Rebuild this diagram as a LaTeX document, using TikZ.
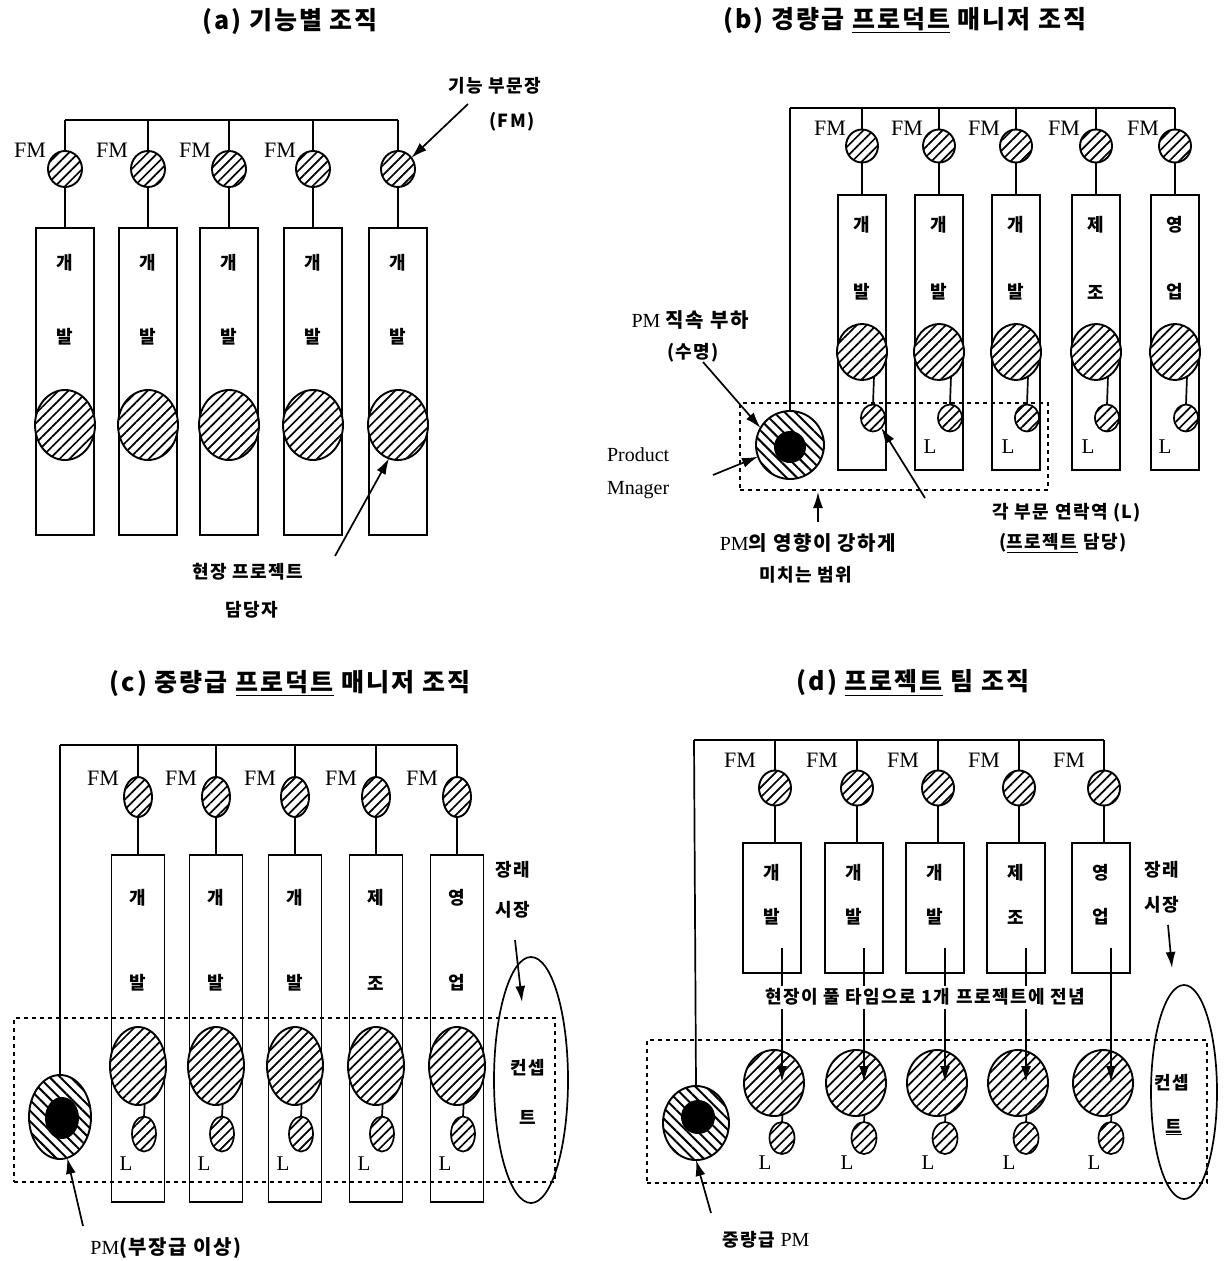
\documentclass[tikz,border=0pt]{standalone}
\usepackage{fontspec}
\setmainfont{Liberation Serif}
\newfontfamily\kr[LetterSpace=8]{Noto Sans CJK KR}
\usepackage{tikz}
\usetikzlibrary{positioning,shapes.geometric,arrows.meta,patterns.meta}

\tikzset{
  every node/.style={inner sep=0pt,outer sep=0pt},
  ln/.style={line width=1.7pt},
  arr/.style={line width=1.7pt,-{Latex[length=16pt,width=10pt]}},
  hatch/.style={draw,line width=1.9pt,preaction={fill=white},
    pattern={Lines[angle=45,distance=7pt,line width=1.7pt]}},
  hatchb/.style={draw,line width=1.9pt,preaction={fill=white},
    pattern={Lines[angle=-45,distance=7.5pt,line width=2pt]}},
  fmc/.style={ellipse,hatch},
  bigc/.style={ellipse,hatch},
  smlc/.style={ellipse,hatch,line width=1.7pt},
  pmc/.style={ellipse,hatchb},
  core/.style={circle,fill=black},
  colbox/.style={draw,line width=1.7pt,fill=white},
  rng/.style={draw,line width=1.9pt,dash pattern=on 4pt off 4pt},
  ttl/.style={font=\kr\bfseries\fontsize{25}{28}\selectfont},
  kt/.style={font=\kr\bfseries\fontsize{18}{22}\selectfont},
  fml/.style={font=\fontsize{22}{24}\selectfont},
  el/.style={font=\fontsize{21}{24}\selectfont},
  pml/.style={font=\fontsize{20}{24}\selectfont}
}

\begin{document}
\begin{tikzpicture}[x=1pt,y=-1pt]
  \useasboundingbox (0,0) rectangle (1228,1261);

  % ---- (a) ----
  \node[ttl] (ta) at (290,22) {(a) 기능별 조직};
  \draw[ln] (65,120) -- (398,120);
  \foreach \i/\x in {1/65,2/148,3/229,4/313,5/398} {
    \coordinate (ab\i) at (\x,120);
    \node[colbox,minimum width=58pt,minimum height=307pt] (abx\i) at (\x,381.5) {};
    \node[kt] (aka\i) at (\x,263) {개};
    \node[kt] (akb\i) at (\x,337) {발};
    \node[bigc,minimum width=60pt,minimum height=70pt] (ac\i) at (\x,425) {};
    \node[fmc,minimum width=34pt,minimum height=36pt] (afm\i) at (\x,169) {};
    \draw[ln] (ab\i) -- (afm\i.north);
    \draw[ln] (afm\i.south) -- (abx\i.north);
  }
  \foreach \i/\x in {1/30,2/112,3/195,4/280}
    \node[fml] (afl\i) at (\x,150) {FM};
  \node[kt] (afmla) at (495,86) {기능 부문장};
  \node[kt] (afmlb) at (512,122) {(FM)};
  \coordinate (afmt) at (468,104);
  \draw[arr] (afmt) -- (afm5.40);
  \node[kt] (apja) at (248,572) {현장 프로젝트};
  \node[kt] (apjb) at (252,610) {담당자};
  \coordinate (apjt) at (335,556);
  \draw[arr] (apjt) -- (ac5.-105);

  % ---- (b) ----
  \node[ttl] (tb) at (905,20) {(b) 경량급 \underline{프로덕트} 매니저 조직};
  \draw[ln] (790,108) -- (1175,108);
  \foreach \i/\x/\ta/\tb in {1/862/개/발,2/939/개/발,3/1016/개/발,4/1096/제/조,5/1175/영/업} {
    \coordinate (bb\i) at (\x,108);
    \node[colbox,minimum width=48pt,minimum height=275pt] (bbx\i) at (\x,332.5) {};
    \node[kt] (bka\i) at (\x,225) {\ta};
    \node[kt] (bkb\i) at (\x,292) {\tb};
    \node[bigc,minimum width=50pt,minimum height=56pt] (bc\i) at (\x,352) {};
    \node[smlc,minimum width=24pt,minimum height=27pt] (bs\i) at (\x+11,418) {};
    \draw[ln] (bc\i.-64) -- (bs\i.north);
    \node[fmc,minimum width=32pt,minimum height=33pt] (bfm\i) at (\x,146) {};
    \node[fml] (bfl\i) at (\x-32,128) {FM};
    \draw[ln] (bb\i) -- (bfm\i.north);
    \draw[ln] (bfm\i.south) -- (bbx\i.north);
  }
  \foreach \i/\x in {2/930,3/1008,4/1088,5/1165}
    \node[el] (bl\i) at (\x,447) {L};
  \node[pmc,minimum width=68pt,minimum height=68pt] (pmb) at (790,445) {};
  \node[core,minimum size=32pt] (pmbc) at (790,447) {};
  \draw[ln] (bb1 -| pmb) -- (pmb.north);
  \node[rng,minimum width=308pt,minimum height=87pt] (rngb) at (894,446.5) {};
  \node[pml] (bpma) at (690,320) {PM {\kr\bfseries 직속 부하}};
  \node[kt] (bpmb) at (693,353) {(수명)};
  \coordinate (bpmt) at (703,362);
  \draw[arr] (bpmt) -- (pmb.150);
  \node[pml,anchor=west] (bpra) at (607,455) {Product};
  \node[pml,anchor=west] (bprb) at (607,490) {Mnager};
  \coordinate (bprt) at (713,475);
  \draw[arr] (bprt) -- (pmb.200);
  \coordinate (brgt) at (818,522);
  \coordinate (brgh) at (818,492);
  \draw[arr] (brgt) -- (brgh);
  \node[pml] (brga) at (808,543) {PM{\kr\bfseries 의 영향이 강하게}};
  \node[kt] (brgb) at (806,575) {미치는 범위};
  \node[kt] (blna) at (1067,513) {각 부문 연락역 (L)};
  \node[kt] (blnb) at (1063,543) {(\underline{프로젝트} 담당)};
  \coordinate (blnt) at (925,498);
  \draw[arr] (blnt) -- (bs1.-50);

  % ---- (c) ----
  \node[ttl] (tc) at (290,683) {(c) 중량급 \underline{프로덕트} 매니저 조직};
  \draw[ln] (60,745) -- (457,745);
  \foreach \i/\x/\ta/\tb in {1/138/개/발,2/216/개/발,3/295/개/발,4/376/제/조,5/457/영/업} {
    \coordinate (cb\i) at (\x,745);
    \node[colbox,minimum width=53pt,minimum height=347pt] (cbx\i) at (\x,1028.5) {};
    \node[kt] (cka\i) at (\x,898) {\ta};
    \node[kt] (ckb\i) at (\x,983) {\tb};
    \node[bigc,minimum width=56pt,minimum height=78pt] (cc\i) at (\x,1066) {};
    \node[smlc,minimum width=24pt,minimum height=35pt] (cs\i) at (\x+6,1134) {};
    \draw[ln] (cc\i.-80) -- (cs\i.north);
    \node[el] (cl\i) at (\x-12,1164) {L};
    \node[fmc,minimum width=28pt,minimum height=40pt] (cfm\i) at (\x,797) {};
    \node[fml] (cfl\i) at (\x-35,778) {FM};
    \draw[ln] (cb\i) -- (cfm\i.north);
    \draw[ln] (cfm\i.south) -- (cbx\i.north);
  }
  \node[pmc,minimum width=62pt,minimum height=84pt] (pmc) at (60,1117) {};
  \node[core,minimum width=34pt,minimum height=42pt,ellipse] (pmcc) at (62,1118) {};
  \draw[ln] (60,745) -- (pmc.north);
  \node[draw,ellipse,line width=1.7pt,minimum width=74pt,minimum height=246pt] (cnc) at (531,1080) {};
  \node[kt] (cnca) at (528,1068) {컨셉};
  \node[kt] (cncb) at (528,1117) {트};
  \node[rng,line width=2.4pt] (rngc) at (284.5,1100) [minimum width=541pt,minimum height=164pt] {};
  \node[kt] (cfua) at (513,870) {장래};
  \node[kt] (cfub) at (513,910) {시장};
  \coordinate (cfut) at (515,940);
  \coordinate (cfuh) at (522,1002);
  \draw[arr] (cfut) -- (cfuh);
  \node[pml] (cpm) at (166,1248) {PM{\kr\bfseries (부장급 이상)}};
  \coordinate (cpmt) at (83,1226);
  \draw[arr] (cpmt) -- (pmc.-80);

  % ---- (d) ----
  \node[ttl] (td) at (913,683) {(d) \underline{프로젝트} 팀 조직};
  \draw[ln] (694,740) -- (1104,740);
  \foreach \i/\x/\ta/\tb in {1/775/개/발,2/857/개/발,3/938/개/발,4/1019/제/조,5/1104/영/업} {
    \coordinate (db\i) at (\x,740);
    \node[colbox,minimum width=58pt,minimum height=130pt] (dbx\i) at (\x-3,908) {};
    \node[kt] (dka\i) at (\x-3,873) {\ta};
    \node[kt] (dkb\i) at (\x-3,917) {\tb};
    \node[bigc,minimum width=60pt,minimum height=66pt] (dc\i) at (\x-1,1083) {};
    \node[smlc,minimum width=25pt,minimum height=32pt] (ds\i) at (\x+7,1138) {};
    \draw[ln] (dc\i.-75) -- (ds\i.north);
    \node[el] (dl\i) at (\x-10,1163) {L};
    \coordinate (dt\i) at (\x+7,948);
    \coordinate (dh\i) at (\x+7,1082);
    \draw[arr] (dt\i) -- (dh\i);
    \node[fmc,minimum width=32pt,minimum height=35pt] (dfm\i) at (\x,788) {};
    \node[fml] (dfl\i) at (\x-35,760) {FM};
    \draw[ln] (db\i) -- (dfm\i.north);
    \draw[ln] (dfm\i.south) -- (dbx\i.north -| dfm\i);
  }
  \node[kt,fill=white,inner sep=3pt] (dtx) at (925,997) {현장이 풀 타임으로 1개 프로젝트에 전념};
  \node[pmc,minimum width=66pt,minimum height=74pt] (pmd) at (696,1123) {};
  \node[core,minimum size=34pt] (pmdc) at (698,1117) {};
  \draw[ln] (694,740) -- (pmd.north);
  \node[draw,ellipse,line width=1.7pt,minimum width=66pt,minimum height=214pt] (cnd) at (1184,1092) {};
  \node[kt] (cnda) at (1172,1083) {컨셉};
  \node[kt] (cndb) at (1174,1127) {\underline{트}};
  \node[rng] (rngd) at (927,1111.5) [minimum width=560pt,minimum height=143pt] {};
  \node[kt] (dfua) at (1162,870) {장래};
  \node[kt] (dfub) at (1162,905) {시장};
  \coordinate (dfut) at (1168,925);
  \coordinate (dfuh) at (1172,968);
  \draw[arr] (dfut) -- (dfuh);
  \node[kt] (dpm) at (766,1240) {중량급 {\fontspec{Liberation Serif}\mdseries\fontsize{20}{22}\selectfont PM}};
  \coordinate (dpmt) at (711,1213);
  \draw[arr] (dpmt) -- (pmd.south);
\end{tikzpicture}
\end{document}
